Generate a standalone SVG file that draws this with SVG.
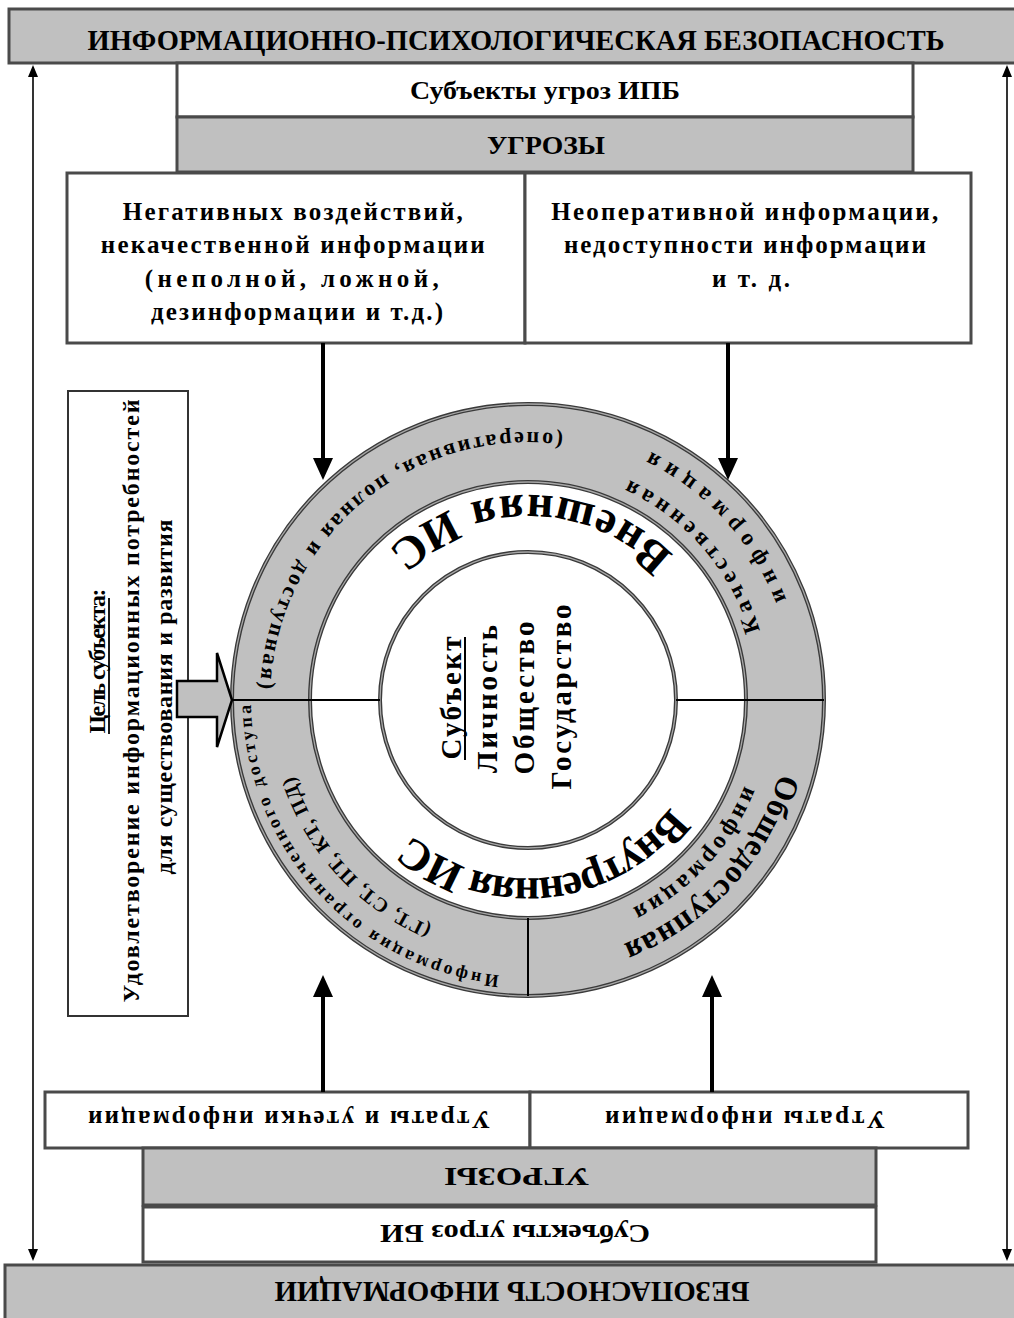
<svg xmlns="http://www.w3.org/2000/svg" width="1014" height="1318" viewBox="0 0 1014 1318">
<style>
.t{font-family:"Liberation Serif","Times New Roman",serif;font-weight:bold;fill:#000}
.bx{stroke:#4a4a4a;stroke-width:3}
.g{fill:#c0c0c0}
.w{fill:#fff}
.edge{fill:none;stroke:#3a3a3a;stroke-width:4}
.edgei{fill:none;stroke:#a8a8a8;stroke-width:1.3}
.conn{stroke:#000;stroke-width:4;fill:none}
.thin{stroke:#000;stroke-width:1.6;fill:none}
</style>
<defs>
<marker id="ah" viewBox="0 0 22 20" markerWidth="22" markerHeight="20" refX="12" refY="10" orient="auto" markerUnits="userSpaceOnUse"><path d="M0,0 L22,10 L0,20 z" fill="#000"/></marker>
<marker id="ahs" viewBox="0 0 12 10" markerWidth="12" markerHeight="10" refX="10" refY="5" orient="auto-start-reverse" markerUnits="userSpaceOnUse"><path d="M0,0 L12,5 L0,10 z" fill="#000"/></marker>
<path id="pOper" d="M588.3,438.9 A268,268 0 0 0 260.4,714.0"/>
<path id="pKach1" d="M770.0,695.8 A242,242 0 0 0 565.9,461.0"/>
<path id="pKach2" d="M804.7,687.9 A277,277 0 0 0 564.2,425.4"/>
<path id="pObsh1" d="M789.8,711.4 A262,262 0 0 1 562.2,959.8"/>
<path id="pObsh2" d="M760.8,710.2 A233,233 0 0 1 558.4,931.0"/>
<path id="pVnesh" d="M730.5,667.9 A205,205 0 0 0 326.8,660.9"/>
<path id="pVnutr" d="M705.6,712.4 A178,178 0 0 1 356.9,749.1"/>
<path id="pOgr1" d="M540.1,976.7 A277,277 0 0 1 253.4,663.8"/>
<path id="pOgr2" d="M538.7,945.8 A246,246 0 0 1 284.1,667.9"/>
</defs>
<rect width="1014" height="1318" fill="#fff"/>

<g id="header-ipb">
<rect class="bx g" x="9" y="9" width="1010" height="54"/>
<text class="t" x="516" y="50" font-size="30" text-anchor="middle" textLength="857" lengthAdjust="spacingAndGlyphs">ИНФОРМАЦИОННО-ПСИХОЛОГИЧЕСКАЯ БЕЗОПАСНОСТЬ</text>
</g>
<g id="subjects-ipb">
<rect class="bx w" x="177" y="63" width="736" height="54"/>
<text class="t" x="545" y="99" font-size="26" text-anchor="middle" textLength="270" lengthAdjust="spacingAndGlyphs">Субъекты угроз ИПБ</text>
</g>
<g id="threats-top">
<rect class="bx g" x="177" y="117" width="736" height="55"/>
<text class="t" x="546" y="154" font-size="26" text-anchor="middle" textLength="118" lengthAdjust="spacingAndGlyphs">УГРОЗЫ</text>
</g>
<g id="threat-negative">
<rect class="bx w" x="67" y="173" width="458" height="170"/>
<text class="t" font-size="25" text-anchor="middle">
<tspan x="297" y="220" textLength="340">Негативных воздействий,</tspan>
<tspan x="297" y="253" textLength="384">некачественной информации</tspan>
<tspan x="297" y="287" textLength="294">(неполной, ложной,</tspan>
<tspan x="297" y="320" textLength="292">дезинформации и т.д.)</tspan>
</text>
</g>
<g id="threat-nonoperative">
<rect class="bx w" x="525" y="173" width="446" height="170"/>
<text class="t" font-size="25" text-anchor="middle">
<tspan x="749" y="220" textLength="387">Неоперативной информации,</tspan>
<tspan x="749" y="253" textLength="362">недоступности информации</tspan>
<tspan x="751" y="287" textLength="78">и т. д.</tspan>
</text>
</g>

<g id="goal">
<rect x="68" y="391" width="120" height="625" fill="#fff" stroke="#333" stroke-width="2"/>
<text class="t" font-size="24" text-anchor="middle" transform="translate(105,661) rotate(-90)" textLength="145">Цель субъекта:</text>
<line x1="109" y1="598" x2="109" y2="734" stroke="#000" stroke-width="1.8"/>
<text class="t" font-size="24" text-anchor="middle" transform="translate(139,701) rotate(-90)" textLength="603">Удовлетворение информационных потребностей</text>
<text class="t" font-size="24" text-anchor="middle" transform="translate(172,697) rotate(-90)" textLength="355">для существования и развития</text>
</g>

<g id="info-sphere">
<circle cx="528" cy="700" r="296" class="g"/>
<circle cx="528" cy="700" r="218" fill="#fff"/>
<circle cx="528" cy="700" r="296" class="edge"/><circle cx="528" cy="700" r="296" class="edgei"/>
<circle cx="528" cy="700" r="218" class="edge"/><circle cx="528" cy="700" r="218" class="edgei"/>
<circle cx="528" cy="700" r="148" class="edge"/><circle cx="528" cy="700" r="148" class="edgei"/>
<line x1="232" y1="700" x2="380" y2="700" stroke="#000" stroke-width="2"/>
<line x1="676" y1="700" x2="824" y2="700" stroke="#000" stroke-width="2"/>
<line x1="528" y1="918" x2="528" y2="996" stroke="#000" stroke-width="2"/>
<text class="t" font-size="22"><textPath href="#pOper" startOffset="50%" text-anchor="middle" textLength="445">(оперативная, полная и доступная)</textPath></text>
<text class="t" font-size="23"><textPath href="#pKach1" startOffset="50%" text-anchor="middle" textLength="205">Качественная</textPath></text>
<text class="t" font-size="23"><textPath href="#pKach2" startOffset="50%" text-anchor="middle" textLength="205">информация</textPath></text>
<text class="t" font-size="32"><textPath href="#pObsh1" startOffset="50%" text-anchor="middle" textLength="240">Общедоступная</textPath></text>
<text class="t" font-size="24"><textPath href="#pObsh2" startOffset="50%" text-anchor="middle" textLength="170">информация</textPath></text>
<text class="t" font-size="46"><textPath href="#pVnesh" startOffset="50%" text-anchor="middle" textLength="315">Внешняя ИС</textPath></text>
<text class="t" font-size="44"><textPath href="#pVnutr" startOffset="50%" text-anchor="middle" textLength="292">Внутренняя ИС</textPath></text>
<text class="t" font-size="18"><textPath href="#pOgr1" startOffset="50%" text-anchor="middle" textLength="401">Информация ограниченного доступа</textPath></text>
<text class="t" font-size="20"><textPath href="#pOgr2" startOffset="50%" text-anchor="middle" textLength="210">(ГТ, СТ, ПТ, КТ, ПД)</textPath></text>
</g>

<g id="subject">
<text class="t" font-size="29" text-anchor="middle" transform="translate(461,698) rotate(-90)" textLength="123">Субъект</text>
<line x1="465" y1="637" x2="465" y2="760" stroke="#000" stroke-width="2"/>
<text class="t" font-size="29" text-anchor="middle" transform="translate(497,699) rotate(-90)" textLength="148">Личность</text>
<text class="t" font-size="29" text-anchor="middle" transform="translate(534,698) rotate(-90)" textLength="153">Общество</text>
<text class="t" font-size="29" text-anchor="middle" transform="translate(571,697) rotate(-90)" textLength="185">Государство</text>
</g>

<g id="loss-leak">
<rect class="bx w" x="45" y="1092" width="485" height="56"/>
<text class="t" x="289" y="1129" font-size="25" text-anchor="middle" transform="rotate(180 289 1120)" textLength="402">Утраты и утечки информации</text>
</g>
<g id="loss">
<rect class="bx w" x="530" y="1092" width="438" height="56"/>
<text class="t" x="745" y="1129" font-size="25" text-anchor="middle" transform="rotate(180 745 1120)" textLength="280">Утраты информации</text>
</g>
<g id="threats-bottom">
<rect class="bx g" x="143" y="1148" width="733" height="57"/>
<text class="t" x="517" y="1186" font-size="26" text-anchor="middle" transform="rotate(180 517 1177)" textLength="145" lengthAdjust="spacingAndGlyphs">УГРОЗЫ</text>
</g>
<g id="subjects-bi">
<rect class="bx w" x="143" y="1207" width="733" height="55"/>
<text class="t" x="515" y="1243" font-size="26" text-anchor="middle" transform="rotate(180 515 1234)" textLength="270" lengthAdjust="spacingAndGlyphs">Субъекты угроз БИ</text>
</g>
<g id="footer-bi">
<rect class="bx g" x="5" y="1265" width="1014" height="55"/>
<text class="t" x="512" y="1302" font-size="30" text-anchor="middle" transform="rotate(180 512 1292)" textLength="475" lengthAdjust="spacingAndGlyphs">БЕЗОПАСНОСТЬ ИНФОРМАЦИИ</text>
</g>

<g id="connectors">
<line class="thin" x1="33" y1="67" x2="33" y2="1259" marker-start="url(#ahs)" marker-end="url(#ahs)"/>
<line class="thin" x1="1007" y1="67" x2="1007" y2="1259" marker-start="url(#ahs)" marker-end="url(#ahs)"/>
<line class="conn" x1="323" y1="343" x2="323" y2="470" marker-end="url(#ah)"/>
<line class="conn" x1="728" y1="343" x2="728" y2="470" marker-end="url(#ah)"/>
<line class="conn" x1="323" y1="1092" x2="323" y2="985" marker-end="url(#ah)"/>
<line class="conn" x1="712" y1="1092" x2="712" y2="985" marker-end="url(#ah)"/>
<polygon points="177,681 217,681 217,653 232,700 217,747 217,717 177,717" fill="#c0c0c0" stroke="#000" stroke-width="2.5" stroke-linejoin="miter"/>
</g>
</svg>
